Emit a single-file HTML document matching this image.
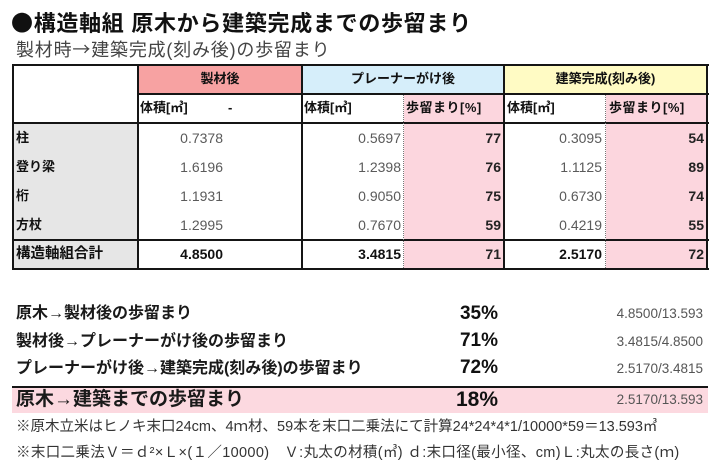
<!DOCTYPE html>
<html><head><meta charset="utf-8">
<style>
*{margin:0;padding:0;box-sizing:border-box}
body{width:720px;height:474px;background:#fff;position:relative;overflow:hidden;font-family:"Liberation Sans","Noto Sans CJK JP",sans-serif;color:#111}
.a{position:absolute}
.t{position:absolute;white-space:nowrap;height:20px;line-height:20px}
.b{font-weight:bold}
.r{text-align:right}
.c{text-align:center}
.j{font-family:"Noto Sans CJK JP",sans-serif}
.hl{position:absolute;height:2px;background:#151515}
.vl{position:absolute;width:2px;background:#151515}
.dl{position:absolute;width:0;border-left:1px dotted #777}
.num{font-size:14px;color:#5a5a5a}
.pc{font-size:14px;font-weight:bold;color:#222}
.lab{font-size:13px;font-weight:bold;left:16px}
.hd{font-size:13px;font-weight:bold}
</style></head><body>

<!-- Title -->
<div class="t b" style="left:11px;top:10px;height:24px;line-height:24px;font-size:22px;letter-spacing:0.7px;color:#111"><span class="j">●</span>構造軸組 原木から建築完成までの歩留まり</div>
<div class="t" style="left:16px;top:38px;height:22px;line-height:22px;font-size:18px;color:#444;letter-spacing:0.8px">製材時<span class="j">→</span>建築完成(刻み後)の歩留まり</div>

<!-- Table fills -->
<div class="a" style="left:138px;top:65px;width:164px;height:29px;background:#f7a2a2"></div>
<div class="a" style="left:302px;top:65px;width:202px;height:29px;background:#d6eefa"></div>
<div class="a" style="left:504px;top:65px;width:203px;height:29px;background:#fffbc4"></div>
<div class="a" style="left:13px;top:123px;width:125px;height:146px;background:#e6e6e6"></div>
<div class="a" style="left:404px;top:94px;width:100px;height:175px;background:#fcd6de"></div>
<div class="a" style="left:606px;top:94px;width:101px;height:175px;background:#fcd6de"></div>

<!-- Table lines -->
<div class="hl" style="left:12px;top:64px;width:697px"></div>
<div class="hl" style="left:137px;top:93px;width:572px"></div>
<div class="hl" style="left:12px;top:122px;width:697px"></div>
<div class="hl" style="left:12px;top:239px;width:697px"></div>
<div class="hl" style="left:12px;top:268px;width:697px"></div>
<div class="vl" style="left:12px;top:64px;height:206px"></div>
<div class="vl" style="left:137px;top:64px;height:206px"></div>
<div class="vl" style="left:301px;top:64px;height:206px"></div>
<div class="vl" style="left:503px;top:64px;height:206px"></div>
<div class="vl" style="left:706px;top:64px;height:206px"></div>
<div class="dl" style="left:403px;top:95px;height:173px"></div>
<div class="dl" style="left:605px;top:95px;height:173px"></div>

<!-- Header row 1 -->
<div class="t hd c" style="left:138px;width:164px;top:69px">製材後</div>
<div class="t hd c" style="left:302px;width:202px;top:69px">プレーナーがけ後</div>
<div class="t hd c" style="left:504px;width:203px;top:69px">建築完成(刻み後)</div>

<!-- Header row 2 -->
<div class="t hd" style="left:140px;top:98px">体積[㎥]</div>
<div class="t hd" style="left:228px;top:98px">-</div>
<div class="t hd" style="left:304px;top:98px">体積[㎥]</div>
<div class="t hd" style="left:406px;top:98px;letter-spacing:0.5px">歩留まり[%]</div>
<div class="t hd" style="left:507px;top:98px">体積[㎥]</div>
<div class="t hd" style="left:609px;top:98px;letter-spacing:0.5px">歩留まり[%]</div>

<!-- Body rows -->
<div class="t lab" style="top:128px">柱</div>
<div class="t lab" style="top:157px">登り梁</div>
<div class="t lab" style="top:186px">桁</div>
<div class="t lab" style="top:215px">方杖</div>
<div class="t b" style="left:16px;top:244px;font-size:14.5px">構造軸組合計</div>

<div class="t num r" style="left:138px;width:85px;top:128px">0.7378</div>
<div class="t num r" style="left:138px;width:85px;top:157px">1.6196</div>
<div class="t num r" style="left:138px;width:85px;top:186px">1.1931</div>
<div class="t num r" style="left:138px;width:85px;top:215px">1.2995</div>
<div class="t pc r" style="left:138px;width:85px;top:244px;color:#111">4.8500</div>

<div class="t num r" style="left:302px;width:99px;top:128px">0.5697</div>
<div class="t num r" style="left:302px;width:99px;top:157px">1.2398</div>
<div class="t num r" style="left:302px;width:99px;top:186px">0.9050</div>
<div class="t num r" style="left:302px;width:99px;top:215px">0.7670</div>
<div class="t pc r" style="left:302px;width:99px;top:244px;color:#111">3.4815</div>

<div class="t pc r" style="left:404px;width:97px;top:128px">77</div>
<div class="t pc r" style="left:404px;width:97px;top:157px">76</div>
<div class="t pc r" style="left:404px;width:97px;top:186px">75</div>
<div class="t pc r" style="left:404px;width:97px;top:215px">59</div>
<div class="t pc r" style="left:404px;width:97px;top:244px">71</div>

<div class="t num r" style="left:504px;width:98px;top:128px">0.3095</div>
<div class="t num r" style="left:504px;width:98px;top:157px">1.1125</div>
<div class="t num r" style="left:504px;width:98px;top:186px">0.6730</div>
<div class="t num r" style="left:504px;width:98px;top:215px">0.4219</div>
<div class="t pc r" style="left:504px;width:98px;top:244px;color:#111">2.5170</div>

<div class="t pc r" style="left:606px;width:98px;top:128px">54</div>
<div class="t pc r" style="left:606px;width:98px;top:157px">89</div>
<div class="t pc r" style="left:606px;width:98px;top:186px">74</div>
<div class="t pc r" style="left:606px;width:98px;top:215px">55</div>
<div class="t pc r" style="left:606px;width:98px;top:244px">72</div>

<!-- Summary -->
<div class="a" style="left:12px;top:388px;width:696px;height:25px;background:#fcd9e0"></div>
<div class="hl" style="left:12px;top:386px;width:696px;height:2px"></div>

<div class="t b" style="left:16px;top:303px;height:22px;line-height:22px;font-size:16px;color:#1a1a1a">原木→製材後の歩留まり</div>
<div class="t b" style="left:16px;top:331px;height:22px;line-height:22px;font-size:16px;color:#1a1a1a">製材後→プレーナーがけ後の歩留まり</div>
<div class="t b" style="left:16px;top:358px;height:22px;line-height:22px;font-size:16px;color:#1a1a1a">プレーナーがけ後→建築完成(刻み後)の歩留まり</div>
<div class="t b" style="left:16px;top:388px;height:24px;line-height:24px;font-size:19px;color:#1a1a1a">原木→建築までの歩留まり</div>

<div class="t b r" style="left:400px;width:98px;top:303px;height:22px;line-height:22px;font-size:19px">35%</div>
<div class="t b r" style="left:400px;width:98px;top:330px;height:22px;line-height:22px;font-size:19px">71%</div>
<div class="t b r" style="left:400px;width:98px;top:357px;height:22px;line-height:22px;font-size:19px">72%</div>
<div class="t b r" style="left:400px;width:98px;top:388px;height:24px;line-height:24px;font-size:21px">18%</div>

<div class="t r" style="left:560px;width:143px;top:304px;font-size:13.5px;color:#555">4.8500/13.593</div>
<div class="t r" style="left:560px;width:143px;top:332px;font-size:13.5px;color:#555">3.4815/4.8500</div>
<div class="t r" style="left:560px;width:143px;top:359px;font-size:13.5px;color:#555">2.5170/3.4815</div>
<div class="t r" style="left:560px;width:143px;top:390px;font-size:13.5px;color:#555">2.5170/13.593</div>

<!-- Footnotes -->
<div class="t" style="left:16px;top:417px;font-size:14.5px;color:#333">※原木立米はヒノキ末口24cm、4ｍ材、59本を末口二乗法にて計算24*24*4*1/10000*59＝13.593㎥</div>
<div class="t" style="left:16px;top:443px;font-size:14.5px;color:#333;letter-spacing:0.35px">※末口二乗法Ｖ＝ｄ²×Ｌ×(１／10000)　Ｖ:丸太の材積(㎥) ｄ:末口径(最小径、cm)Ｌ:丸太の長さ(ｍ)</div>

</body></html>
